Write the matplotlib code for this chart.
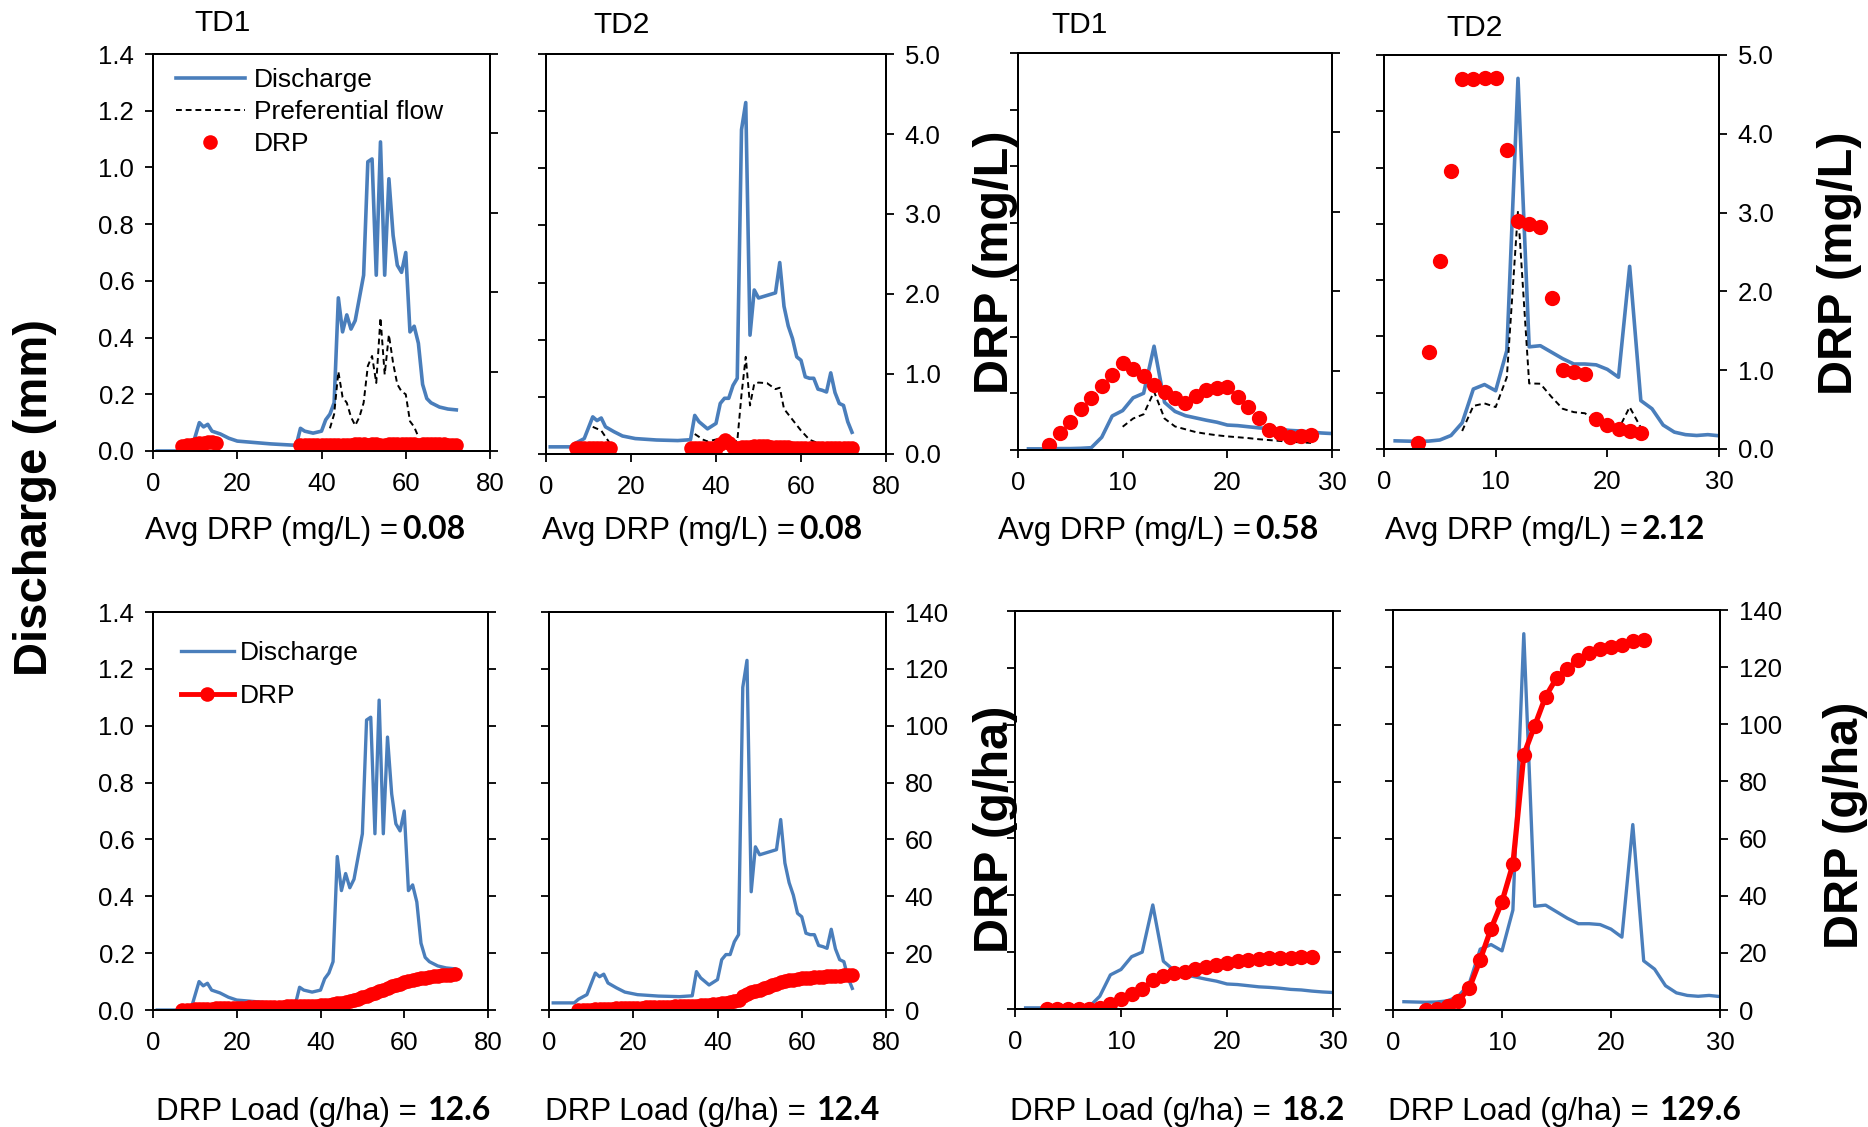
import numpy as np
import matplotlib
matplotlib.use('Agg')
import matplotlib.pyplot as plt
from matplotlib.ticker import FormatStrFormatter

plt.rcParams['font.family'] = 'Liberation Sans'

BLUE = '#4A7EBB'
RED = '#FF0000'

# ---------------- event 1 (80 days) ----------------
# TD1 discharge (mm)
td1_e1_days = [1, 9, 10, 11, 12, 13, 14, 16, 18, 20, 24, 28, 34, 35, 36, 38, 40, 41, 42, 43,
               44, 45, 46, 47, 48, 49, 50, 51, 52, 53, 54, 55, 56, 57, 58, 59, 60, 61, 62, 63,
               64, 65, 66, 68, 70, 72]
td1_e1_q = [0.0, 0.0, 0.05, 0.10, 0.085, 0.094, 0.07, 0.06, 0.045, 0.035, 0.03, 0.025, 0.02, 0.08, 0.07, 0.063, 0.07, 0.11, 0.13, 0.17,
            0.54, 0.42, 0.48, 0.43, 0.46, 0.54, 0.62, 1.02, 1.03, 0.62, 1.09, 0.62, 0.96, 0.76, 0.655, 0.63, 0.70, 0.42, 0.44, 0.38,
            0.235, 0.185, 0.17, 0.155, 0.148, 0.145]
# TD1 preferential flow (mm)
td1_e1_pf_days = [42, 43, 44, 45, 46, 47, 48, 49, 50, 51, 52, 53, 54, 55, 56, 57, 58, 59, 60, 61, 62, 63]
td1_e1_pf = [0.08, 0.13, 0.28, 0.19, 0.17, 0.12, 0.09, 0.12, 0.17, 0.30, 0.335, 0.24, 0.47, 0.27, 0.41, 0.31,
             0.235, 0.21, 0.20, 0.105, 0.085, 0.05]
# TD1 DRP concentration (mg/L)
td1_e1_c_days = list(range(7, 16)) + list(range(35, 73))
td1_e1_c = [0.06, 0.07, 0.08, 0.09, 0.10, 0.10, 0.11, 0.11, 0.10,
            0.07, 0.07, 0.07, 0.07, 0.07, 0.07, 0.08, 0.08, 0.08, 0.08,
            0.08, 0.08, 0.08, 0.09, 0.09, 0.09, 0.08, 0.09, 0.09, 0.08,
            0.08, 0.09, 0.09, 0.09, 0.09, 0.09, 0.09, 0.09, 0.08, 0.09,
            0.09, 0.09, 0.09, 0.09, 0.09, 0.08, 0.08, 0.08]
# TD1 cumulative DRP load (g/ha)
td1_e1_load_days = list(range(7, 73))
td1_e1_load = [0.0, 0.08, 0.15, 0.2, 0.28, 0.36, 0.44, 0.5, 0.56, 0.6,
               0.64, 0.68, 0.72, 0.76, 0.8, 0.84, 0.88, 0.92, 0.96, 1.0,
               1.04, 1.08, 1.12, 1.16, 1.2, 1.24, 1.28, 1.32, 1.36, 1.4,
               1.45, 1.5, 1.55, 1.62, 1.72, 1.85, 2.0, 2.3, 2.6, 2.9,
               3.2, 3.5, 3.9, 4.4, 5.0, 5.6, 6.1, 6.7, 7.2, 7.8,
               8.3, 8.8, 9.3, 9.8, 10.2, 10.6, 10.9, 11.2, 11.4, 11.6,
               11.8, 12.0, 12.15, 12.3, 12.45, 12.6]

# TD2 discharge (mm)
td2_e1_days = [1, 6, 7, 9, 11, 12, 13, 14, 16, 18, 21, 26, 31, 34, 35, 36, 38, 40, 41, 42,
               43, 44, 45, 46, 47, 48, 49, 50, 54, 55, 56, 57, 58, 59, 60, 61, 62, 63, 64, 65,
               66, 67, 68, 69, 70, 71, 72]
td2_e1_q = [0.025, 0.025, 0.038, 0.054, 0.13, 0.117, 0.126, 0.095, 0.078, 0.063,
            0.054, 0.049, 0.047, 0.05, 0.135, 0.113, 0.088, 0.107, 0.177, 0.195,
            0.195, 0.24, 0.265, 1.135, 1.23, 0.416, 0.574, 0.546, 0.564, 0.67,
            0.517, 0.448, 0.404, 0.34, 0.328, 0.27, 0.265, 0.265, 0.227, 0.223,
            0.217, 0.284, 0.215, 0.177, 0.17, 0.113, 0.076]
# TD2 preferential flow (mm), two flow periods
td2_e1_pf_days_a = [11, 13, 15]
td2_e1_pf_a = [0.095, 0.082, 0.038]
td2_e1_pf_days_b = [35, 37, 38, 41, 43, 45, 46, 47, 48, 49, 50, 52, 54, 55, 56, 58, 60, 62, 64]
td2_e1_pf_b = [0.07, 0.05, 0.044, 0.054, 0.05, 0.044, 0.208, 0.34, 0.17, 0.246, 0.25, 0.248, 0.227,
               0.232, 0.158, 0.12, 0.082, 0.05, 0.038]
# TD2 DRP concentration (mg/L)
td2_e1_c_days = list(range(7, 16)) + list(range(34, 73))
td2_e1_c = [0.08, 0.08, 0.08, 0.08, 0.08, 0.08, 0.08, 0.08, 0.08,
            0.07, 0.07, 0.07, 0.07, 0.07, 0.08, 0.08, 0.12, 0.18, 0.14,
            0.09, 0.08, 0.09, 0.09, 0.09, 0.10, 0.10, 0.10, 0.10, 0.09,
            0.09, 0.09, 0.09, 0.09, 0.08, 0.08, 0.08, 0.08, 0.08, 0.08,
            0.07, 0.07, 0.07, 0.07, 0.07, 0.08, 0.08, 0.08, 0.08]
# TD2 cumulative DRP load (g/ha)
td2_e1_load_days = list(range(7, 73))
td2_e1_load = [0.0, 0.05, 0.1, 0.15, 0.22, 0.3, 0.38, 0.45, 0.5, 0.55,
               0.6, 0.65, 0.7, 0.75, 0.8, 0.85, 0.9, 0.95, 1.0, 1.05,
               1.1, 1.15, 1.2, 1.25, 1.3, 1.35, 1.4, 1.45, 1.55, 1.65,
               1.75, 1.85, 1.95, 2.1, 2.3, 2.6, 2.9, 3.2, 3.6, 5.0,
               5.6, 6.2, 6.7, 7.2, 7.7, 8.2, 8.7, 9.2, 9.7, 10.1,
               10.4, 10.7, 10.9, 11.1, 11.25, 11.4, 11.5, 11.6, 11.7, 11.8,
               11.9, 12.0, 12.1, 12.2, 12.3, 12.4]

# ---------------- event 2 (30 days) ----------------
e2_days = list(range(1, 31))
td1_e2_q = [0.004, 0.004, 0.004, 0.005, 0.005, 0.006, 0.008, 0.045, 0.12, 0.139,
            0.184, 0.2, 0.366, 0.168, 0.136, 0.121, 0.113, 0.105, 0.098, 0.088,
            0.086, 0.082, 0.078, 0.076, 0.073, 0.069, 0.067, 0.063, 0.06, 0.058]
td1_e2_pf_days = list(range(10, 29))
td1_e2_pf = [0.082, 0.111, 0.126, 0.206, 0.111, 0.083, 0.073, 0.063, 0.057, 0.052,
             0.048, 0.045, 0.042, 0.038, 0.035, 0.032, 0.029, 0.027, 0.025]
td1_e2_c_days = list(range(3, 29))
td1_e2_c = [0.06, 0.21, 0.35, 0.52, 0.66, 0.80, 0.95, 1.10, 1.02, 0.93,
            0.82, 0.73, 0.66, 0.59, 0.68, 0.76, 0.78, 0.79, 0.67, 0.54,
            0.40, 0.25, 0.21, 0.16, 0.18, 0.19]
td1_e2_load = [0.0, 0.0, 0.0, 0.0, 0.05, 0.4, 1.9, 3.4, 5.4, 7.0,
               10.2, 11.5, 12.5, 13.1, 14.0, 14.7, 15.6, 16.3, 16.8, 17.2,
               17.5, 17.9, 18.0, 18.1, 18.2, 18.2]

td2_e2_q = [0.029, 0.028, 0.027, 0.028, 0.032, 0.048, 0.093, 0.213, 0.229, 0.207,
            0.35, 1.317, 0.363, 0.367, 0.344, 0.321, 0.302, 0.302, 0.299, 0.283,
            0.255, 0.649, 0.172, 0.143, 0.085, 0.06, 0.051, 0.048, 0.051, 0.047]
td2_e2_pf_days = list(range(7, 24))
td2_e2_pf = [0.064, 0.153, 0.162, 0.149, 0.255, 0.847, 0.233, 0.232, 0.185, 0.143,
             0.131, 0.127, 0.095, 0.083, 0.07, 0.149, 0.076]
td2_e2_c_days = list(range(3, 24))
td2_e2_c = [0.07, 1.23, 2.38, 3.53, 4.70, 4.70, 4.71, 4.71, 3.80, 2.89,
            2.86, 2.82, 1.92, 1.00, 0.98, 0.95, 0.38, 0.31, 0.25, 0.23, 0.20]
td2_e2_load = [0.0, 0.4, 1.3, 3.3, 7.6, 17.6, 28.5, 37.9, 51.0, 89.4,
               99.5, 109.7, 116.2, 119.4, 122.5, 125.1, 126.3, 127.2, 127.8, 129.2, 129.6]

avg_drp = ['0.08', '0.08', '0.58', '2.12']
drp_load = ['12.6', '12.4', '18.2', '129.6']
titles = ['TD1', 'TD2', 'TD1', 'TD2']

W, H = 1868, 1127
TICK_FS = 18.5
LEG_FS = 19
fig = plt.figure(figsize=(W / 100, H / 100), dpi=100)


def rect(x0, y0, x1, y1):
    return [x0 / W, 1 - y1 / H, (x1 - x0) / W, (y1 - y0) / H]


def make_axes(box, xmax, xstep, y2max, y2step, y2fmt, left_lab, right_lab):
    ax = fig.add_axes(rect(*box))
    ax2 = ax.twinx()
    ax.set_xlim(0, xmax)
    ax.set_xticks(np.arange(0, xmax + 1, xstep))
    ax.set_ylim(0, 1.4)
    ax.set_yticks(np.arange(0, 1.41, 0.2))
    ax.yaxis.set_major_formatter(FormatStrFormatter('%.1f'))
    ax2.set_ylim(0, y2max)
    ax2.set_yticks(np.arange(0, y2max + 0.001, y2step))
    ax2.yaxis.set_major_formatter(FormatStrFormatter(y2fmt))
    for a in (ax, ax2):
        for s in a.spines.values():
            s.set_linewidth(1.4)
            s.set_color('black')
    ax.tick_params(axis='x', direction='out', length=5.5, width=1.3, labelsize=TICK_FS, pad=9.5)
    ax.tick_params(axis='y', direction='out', length=5.5, width=1.3, labelsize=TICK_FS, pad=8,
                   labelleft=left_lab)
    ax2.tick_params(axis='y', direction='out', length=5.5, width=1.3, labelsize=TICK_FS, pad=8,
                    labelright=right_lab)
    return ax, ax2


# ---------------- top row: concentration ----------------
ax, ax2 = make_axes((153, 54, 490, 451), 80, 20, 5, 1, '%.1f', True, False)
l1, = ax.plot(td1_e1_days, td1_e1_q, color=BLUE, lw=2.6)
l2, = ax.plot(td1_e1_pf_days, td1_e1_pf, color='black', ls='--', lw=1.4, dashes=(3, 2))
l3, = ax2.plot(td1_e1_c_days, td1_e1_c, 'o', color=RED, ms=10.5, mec='none')
ax2.legend([l1, l2, l3], ['Discharge', 'Preferential flow', 'DRP'], loc='upper left',
           bbox_to_anchor=(176 / W, 1 - 68 / H), bbox_transform=fig.transFigure,
           frameon=False, fontsize=LEG_FS, handlelength=2.6, handletextpad=0.35,
           labelspacing=0.3, borderpad=0, borderaxespad=0, numpoints=1)

ax, ax2 = make_axes((546, 54, 886, 454), 80, 20, 5, 1, '%.1f', False, True)
ax.plot(td2_e1_days, td2_e1_q, color=BLUE, lw=2.6)
ax.plot(td2_e1_pf_days_a, td2_e1_pf_a, color='black', ls='--', lw=1.4, dashes=(3, 2))
ax.plot(td2_e1_pf_days_b, td2_e1_pf_b, color='black', ls='--', lw=1.4, dashes=(3, 2))
ax2.plot(td2_e1_c_days, td2_e1_c, 'o', color=RED, ms=10.5, mec='none')

ax, ax2 = make_axes((1018, 53, 1332, 450), 30, 10, 5, 1, '%.1f', False, False)
ax.plot(e2_days, td1_e2_q, color=BLUE, lw=2.6)
ax.plot(td1_e2_pf_days, td1_e2_pf, color='black', ls='--', lw=1.4, dashes=(3, 2))
ax2.plot(td1_e2_c_days, td1_e2_c, 'o', color=RED, ms=11, mec='none')

ax, ax2 = make_axes((1384, 55, 1719, 449), 30, 10, 5, 1, '%.1f', False, True)
ax.plot(e2_days, td2_e2_q, color=BLUE, lw=2.6)
ax.plot(td2_e2_pf_days, td2_e2_pf, color='black', ls='--', lw=1.4, dashes=(3, 2))
ax2.plot(td2_e2_c_days, td2_e2_c, 'o', color=RED, ms=11, mec='none')

# ---------------- bottom row: cumulative load ----------------
ax, ax2 = make_axes((153, 612, 488, 1010), 80, 20, 140, 20, '%d', True, False)
b1, = ax.plot(td1_e1_days, td1_e1_q, color=BLUE, lw=2.4)
b2, = ax2.plot(td1_e1_load_days, td1_e1_load, '-o', color=RED, lw=3.5, ms=10.5, mec='none')
ax2.legend([b1, b2], ['Discharge', 'DRP'], loc='upper left',
           bbox_to_anchor=(181 / W, 1 - 641 / H), bbox_transform=fig.transFigure,
           frameon=False, fontsize=LEG_FS, handlelength=2.0, handletextpad=0.25,
           labelspacing=0.72, borderpad=0, borderaxespad=0, numpoints=1)

ax, ax2 = make_axes((549, 612, 886, 1010), 80, 20, 140, 20, '%d', False, True)
ax.plot(td2_e1_days, td2_e1_q, color=BLUE, lw=2.4)
ax2.plot(td2_e1_load_days, td2_e1_load, '-o', color=RED, lw=3.5, ms=10.5, mec='none')

ax, ax2 = make_axes((1015, 611, 1333, 1009), 30, 10, 140, 20, '%d', False, False)
ax.plot(e2_days, td1_e2_q, color=BLUE, lw=2.4)
ax2.plot(td1_e2_c_days, td1_e2_load, '-o', color=RED, lw=3.5, ms=11, mec='none')

ax, ax2 = make_axes((1393, 610, 1720, 1010), 30, 10, 140, 20, '%d', False, True)
ax.plot(e2_days, td2_e2_q, color=BLUE, lw=2.4)
ax2.plot(td2_e2_c_days, td2_e2_load, '-o', color=RED, lw=3.8, ms=11, mec='none')

# ---------------- figure texts ----------------
for (tx, ty), t in zip([(223, 23), (622, 25), (1080, 25), (1475, 28)], titles):
    fig.text(tx / W, 1 - ty / H, t, ha='center', va='center', fontsize=21.5)

fig.text(35 / W, 1 - 498 / H, 'Discharge (mm)', rotation=90, ha='center', va='center',
         fontsize=34, fontweight='bold')
fig.text(995 / W, 1 - 262 / H, 'DRP (mg/L)', rotation=90, ha='center', va='center',
         fontsize=35, fontweight='bold')
fig.text(1840 / W, 1 - 263 / H, 'DRP (mg/L)', rotation=90, ha='center', va='center',
         fontsize=35, fontweight='bold')
fig.text(995 / W, 1 - 829 / H, 'DRP (g/ha)', rotation=90, ha='center', va='center',
         fontsize=35, fontweight='bold')
fig.text(1845 / W, 1 - 825 / H, 'DRP (g/ha)', rotation=90, ha='center', va='center',
         fontsize=35, fontweight='bold')

renderer = fig.canvas.get_renderer()


def value_label(x, y, prefix, value, gap):
    t = fig.text(x / W, 1 - y / H, prefix, ha='left', va='baseline', fontsize=22.5)
    bb = t.get_window_extent(renderer)
    fig.text((bb.x1 + gap) / W, 1 - y / H, value, ha='left', va='baseline',
             fontsize=23, fontweight='bold', family='Lato')


for x0, v in zip([145, 542, 998, 1385], avg_drp):
    value_label(x0, 539, 'Avg DRP (mg/L) =', v, 4)
for x0, v in zip([156, 545, 1010, 1388], drp_load):
    value_label(x0, 1120, 'DRP Load (g/ha) =', v, 11)

plt.savefig('out.png', dpi=100)
